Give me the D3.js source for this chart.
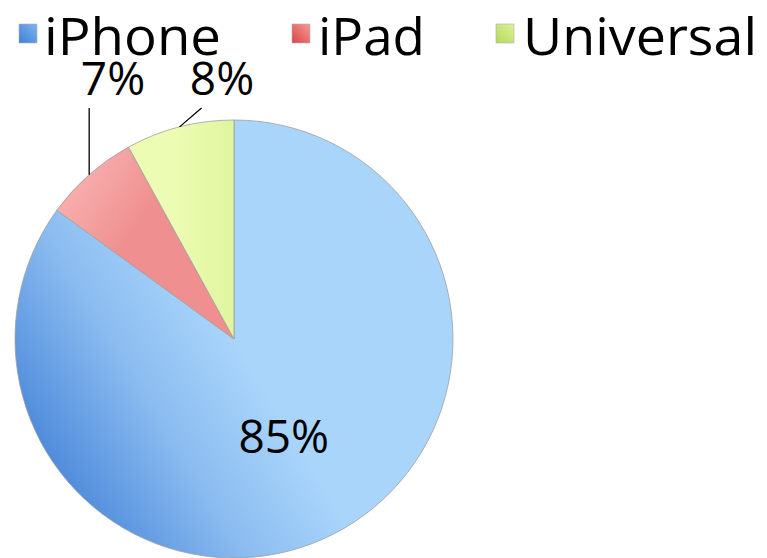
<!DOCTYPE html>
<html><head><meta charset="utf-8">
<script src="https://cdn.jsdelivr.net/npm/d3@7"></script>
<style>html,body{margin:0;padding:0;background:#fff;}svg{display:block;}</style>
</head><body>
<svg id="c" width="767" height="558"></svg>
<script>
const categories = ["iPhone", "iPad", "Universal"];
const values = [85, 7, 8];
const labels = ["85%", "7%", "8%"];

const svg = d3.select("#c");
const cx = 234, cy = 339, R = 219;
const font = "'Open Sans', 'Noto Sans', sans-serif";

const defs = svg.append("defs");
function lin(id, x1, y1, x2, y2, stops, units) {
  const g = defs.append("linearGradient").attr("id", id)
    .attr("x1", x1).attr("y1", y1).attr("x2", x2).attr("y2", y2);
  if (units) g.attr("gradientUnits", units);
  stops.forEach(s => g.append("stop").attr("offset", s[0]).attr("stop-color", s[1]));
}
lin("g0", -200, 165, 18, 30, [[0, "#3d7dd6"], [0.6, "#8bbcf0"], [1, "#a9d5fb"]], "userSpaceOnUse");
lin("g1", -150, -160, -90, -120, [[0, "#f7abab"], [1, "#ef8f8f"]], "userSpaceOnUse");
lin("g2", -60, -200, 0, -200, [[0, "#ecfcb3"], [1, "#e0f59f"]], "userSpaceOnUse");
lin("m0", 0, 1, 1, 0, [[0, "#3f7fd7"], [1, "#7fb4ef"]]);
lin("m1", 0, 1, 1, 0, [[0, "#dc4444"], [1, "#f59a9a"]]);
lin("m2", 0, 1, 1, 0, [[0, "#b5d957"], [1, "#dcf19a"]]);

const pie = d3.pie().sort(null).value(d => d)(values);
const arc = d3.arc().innerRadius(0).outerRadius(R);
const g = svg.append("g").attr("transform", `translate(${cx},${cy})`);
g.selectAll("path").data(pie).join("path")
  .attr("d", arc)
  .attr("fill", (d, i) => `url(#g${i})`)
  .attr("stroke", "#a0a0a0").attr("stroke-width", 0.8);

// inside label for the big slice
const inner = d3.arc().innerRadius(R * 0.5).outerRadius(R * 0.5);
g.append("text")
  .attr("x", inner.centroid(pie[0])[0]).attr("y", inner.centroid(pie[0])[1])
  .attr("text-anchor", "middle").attr("dy", "0.35em")
  .attr("font-family", font).attr("font-size", 46).attr("fill", "#000")
  .text(labels[0]);

// outside labels with leader lines
const labelY = 108 - cy;
const labelX = [null, 113 - cx, 222 - cx];
[1, 2].forEach(i => {
  const a = (pie[i].startAngle + pie[i].endAngle) / 2;
  const px = R * Math.sin(a), py = -R * Math.cos(a);
  const ex = i === 1 ? px : px + 22;
  g.append("line").attr("x1", px).attr("y1", py).attr("x2", ex).attr("y2", labelY)
    .attr("stroke", "#000").attr("stroke-width", 1.3);
  g.append("text").attr("x", labelX[i]).attr("y", labelY - 13)
    .attr("text-anchor", "middle")
    .attr("font-family", font).attr("font-size", 46).attr("fill", "#000")
    .text(labels[i]);
});

// legend
const legX = [19, 292, 496];
const legTextX = [44, 318, 523];
const legW = [177, 107, 234];
const leg = svg.append("g");
categories.forEach((c, i) => {
  leg.append("rect").attr("x", legX[i]).attr("y", 24).attr("width", 18).attr("height", 19)
    .attr("fill", `url(#m${i})`).attr("stroke", "#b0b0b0").attr("stroke-width", 0.6);
  leg.append("text").attr("x", legTextX[i]).attr("y", 55)
    .attr("font-family", font).attr("font-size", 51).attr("fill", "#000")
    .attr("textLength", legW[i]).attr("lengthAdjust", "spacingAndGlyphs")
    .text(c);
});
</script>
</body></html>
